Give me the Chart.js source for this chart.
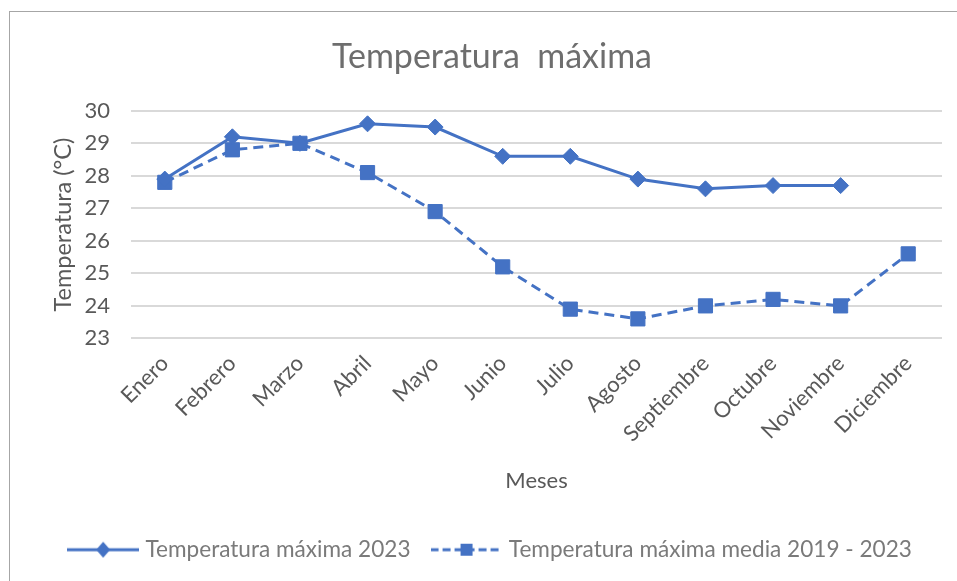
<!DOCTYPE html>
<html>
<head>
<meta charset="utf-8">
<title>Temperatura máxima</title>
<script src="https://cdn.jsdelivr.net/npm/chart.js@4.4.1/dist/chart.umd.min.js"></script>
<style>
  html, body { margin: 0; padding: 0; background: #fff; }
  #wrap { position: relative; width: 957px; height: 581px; overflow: hidden; }
  #frame { position: absolute; left: 9px; top: 11px; width: 960px; height: 580px;
           border-left: 1px solid #a6a6a6; border-top: 1px solid #a6a6a6; }
  canvas { position: absolute; left: 0; top: 0; }
</style>
</head>
<body>
<div id="wrap">
  <div id="frame"></div>
  <canvas id="tempChart" width="957" height="581"></canvas>
</div>
<script>
// datos
const meses = ['Enero', 'Febrero', 'Marzo', 'Abril', 'Mayo', 'Junio', 'Julio',
               'Agosto', 'Septiembre', 'Octubre', 'Noviembre', 'Diciembre'];
const maxima2023 = [27.9, 29.2, 29.0, 29.6, 29.5, 28.6, 28.6, 27.9, 27.6, 27.7, 27.7, null];
const maximaMedia = [27.8, 28.8, 29.0, 28.1, 26.9, 25.2, 23.9, 23.6, 24.0, 24.2, 24.0, 25.6];
const ejeYMin = 23;
const ejeYMax = 30;

const azul = '#4472C4';
const gris = '#595959';
const fuente = 'Lato';

// marcador de la leyenda: linea + simbolo
function marcadorLeyenda(discontinua) {
    const c = document.createElement('canvas');
    c.width = 72;
    c.height = 20;
    const ctx = c.getContext('2d');
    ctx.strokeStyle = azul;
    ctx.fillStyle = azul;
    ctx.lineWidth = 3;
    if (discontinua) ctx.setLineDash([8, 4]);
    ctx.beginPath();
    ctx.moveTo(0, 10);
    ctx.lineTo(72, 10);
    ctx.stroke();
    ctx.setLineDash([]);
    if (discontinua) {
        ctx.fillRect(30, 4, 12, 12);
    } else {
        ctx.beginPath();
        ctx.moveTo(36, 2);
        ctx.lineTo(43, 10);
        ctx.lineTo(36, 18);
        ctx.lineTo(29, 10);
        ctx.closePath();
        ctx.fill();
    }
    return c;
}
const marcadores = [marcadorLeyenda(false), marcadorLeyenda(true)];

new Chart(document.getElementById('tempChart'), {
    type: 'line',
    data: {
        labels: meses,
        datasets: [{
            label: 'Temperatura máxima 2023',
            data: maxima2023,
            borderColor: azul,
            backgroundColor: azul,
            borderWidth: 3,
            pointStyle: 'rectRot',
            pointRadius: 8,
            pointHoverRadius: 8,
            pointBorderWidth: 1,
            tension: 0
        }, {
            label: 'Temperatura máxima media 2019 - 2023',
            data: maximaMedia,
            borderColor: azul,
            backgroundColor: azul,
            borderWidth: 3,
            borderDash: [10, 6],
            pointStyle: 'rect',
            pointRadius: 10,
            pointHoverRadius: 10,
            pointBorderWidth: 1,
            tension: 0
        }]
    },
    options: {
        responsive: false,
        animation: false,
        layout: { padding: { left: 27, right: 0, top: 0, bottom: 10 } },
        plugins: {
            title: {
                display: true,
                text: 'Temperatura  máxima',
                color: '#6e6e6e',
                font: { family: fuente, size: 34, weight: 'normal' },
                padding: { top: 37, bottom: 33 }
            },
            legend: {
                position: 'bottom',
                labels: {
                    usePointStyle: true,
                    pointStyleWidth: 62,
                    padding: 25,
                    color: '#7a7a7a',
                    font: { family: fuente, size: 22.6 },
                    generateLabels: chart => chart.data.datasets.map((ds, i) => ({
                        text: ds.label,
                        pointStyle: marcadores[i],
                        fontColor: '#7a7a7a',
                        fillStyle: 'transparent',
                        strokeStyle: 'transparent',
                        lineWidth: 0,
                        hidden: false,
                        datasetIndex: i
                    }))
                }
            },
            tooltip: { enabled: false }
        },
        scales: {
            x: {
                offset: true,
                grid: { display: false },
                border: { display: false },
                ticks: {
                    autoSkip: false,
                    minRotation: 45,
                    maxRotation: 45,
                    padding: 4,
                    color: gris,
                    font: { family: fuente, size: 22 }
                },
                title: {
                    display: true,
                    text: 'Meses',
                    color: gris,
                    font: { family: fuente, size: 22 },
                    padding: { top: 0, bottom: 19 }
                },
                afterFit: s => { s.height = 175; }
            },
            y: {
                min: ejeYMin,
                max: ejeYMax,
                grid: { color: '#d9d9d9', lineWidth: 2, drawTicks: false },
                border: { display: false },
                ticks: {
                    stepSize: 1,
                    padding: 21,
                    color: gris,
                    font: { family: fuente, size: 22 }
                },
                title: {
                    display: true,
                    text: 'Temperatura (°C)',
                    color: gris,
                    font: { family: fuente, size: 23.5 },
                    padding: { top: 22, bottom: 0 }
                },
                afterFit: s => { s.width = 104; }
            },
            yDer: {
                position: 'right',
                grid: { display: false },
                border: { display: false },
                ticks: { display: false },
                afterFit: s => { s.width = 15; }
            }
        }
    }
});
</script>
</body>
</html>
